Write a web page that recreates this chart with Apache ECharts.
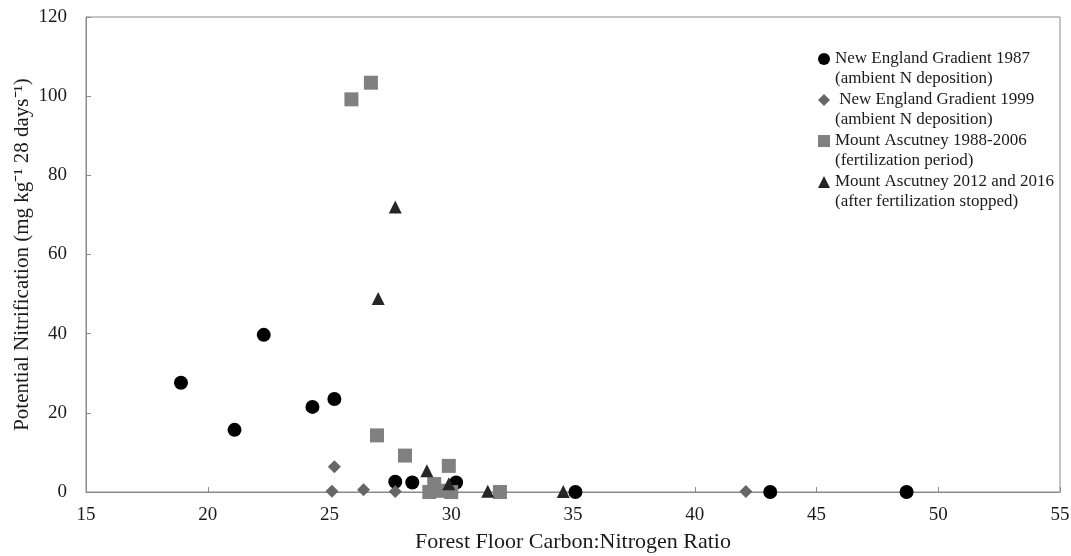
<!DOCTYPE html>
<html>
<head>
<meta charset="utf-8">
<script src="https://cdn.jsdelivr.net/npm/echarts@6/dist/echarts.min.js"></script>
<style>html,body{margin:0;padding:0;background:#fff}#c{width:1071px;height:556px}</style>
</head>
<body>
<div id="c"></div>
<script>
var seriesNames = [
  'New England Gradient 1987\n(ambient N deposition)',
  ' New England Gradient 1999\n(ambient N deposition)',
  'Mount Ascutney 1988-2006\n(fertilization period)',
  'Mount Ascutney 2012 and 2016\n(after fertilization stopped)'
];
var ne1987 = [[18.9,27.6],[21.1,15.7],[22.3,39.7],[24.3,21.5],[25.2,23.5],[27.7,2.6],[28.4,2.4],[30.2,2.4],[35.1,0],[43.1,0],[48.7,0]];
var ne1999 = [[25.2,6.4],[25.1,0.2],[26.4,0.6],[27.7,0.1],[42.1,0.1]];
var ma8806 = [[25.9,99.2],[26.7,103.4],[26.95,14.3],[28.1,9.2],[29.9,6.6],[29.3,2.0],[29.1,0],[29.6,0.3],[30.0,0],[32.0,0]];
var ma1216 = [[27.7,72.0],[27.0,48.9],[29.0,5.4],[29.9,2.1],[31.5,0.2],[34.6,0.1]];
var xTicks = {min:15, max:55, interval:5};
var yTicks = {min:0, max:120, interval:20};

var font = 'Liberation Serif';
var chart = echarts.init(document.getElementById('c'));
var legendLine = 20;
chart.setOption({
  animation:false,
  backgroundColor:'#fff',
  grid:{left:86, right:11, top:17, bottom:64, show:true, borderColor:'#8a8a8a', borderWidth:1, containLabel:false, outerBoundsMode:'none'},
  legend:{
    orient:'vertical', left:818, top:29, padding:0, itemGap:-19, itemWidth:12, itemHeight:12,
    data:seriesNames,
    formatter:function(n){ return '\n' + n; },
    textStyle:{fontFamily:font, fontSize:17, color:'#1a1a1a', lineHeight:legendLine}
  },
  xAxis:{
    type:'value', min:xTicks.min, max:xTicks.max, interval:xTicks.interval,
    name:'Forest Floor Carbon:Nitrogen Ratio', nameLocation:'middle', nameGap:39, nameMoveOverlap:false,
    nameTextStyle:{fontFamily:font, fontSize:22, color:'#1a1a1a'},
    axisLine:{lineStyle:{color:'#8a8a8a'}},
    axisTick:{inside:true, length:5, lineStyle:{color:'#8a8a8a'}},
    axisLabel:{fontFamily:font, fontSize:19, color:'#1a1a1a', margin:14},
    splitLine:{show:false}
  },
  yAxis:{
    type:'value', min:yTicks.min, max:yTicks.max, interval:yTicks.interval,
    name:'Potential Nitrification (mg kg\u207B\u00B9 28 days\u207B\u00B9)', nameLocation:'middle', nameGap:53, nameMoveOverlap:false,
    nameTextStyle:{fontFamily:font, fontSize:21, color:'#1a1a1a'},
    axisLine:{show:true, lineStyle:{color:'#8a8a8a'}},
    axisTick:{show:true, inside:true, length:5, lineStyle:{color:'#8a8a8a'}},
    axisLabel:{fontFamily:font, fontSize:19, color:'#1a1a1a', margin:19},
    splitLine:{show:false}
  },
  series:[
    {name:seriesNames[0], type:'scatter', data:ne1987, symbol:'circle', symbolSize:14, itemStyle:{color:'#000', opacity:1}},
    {name:seriesNames[1], type:'scatter', data:ne1999, symbol:'diamond', symbolSize:13, itemStyle:{color:'#666', opacity:1}},
    {name:seriesNames[2], type:'scatter', data:ma8806, symbol:'rect', symbolSize:14, itemStyle:{color:'#808080', opacity:1}},
    {name:seriesNames[3], type:'scatter', data:ma1216, symbol:'triangle', symbolSize:13, itemStyle:{color:'#262626', opacity:1}}
  ]
});
</script>
</body>
</html>
